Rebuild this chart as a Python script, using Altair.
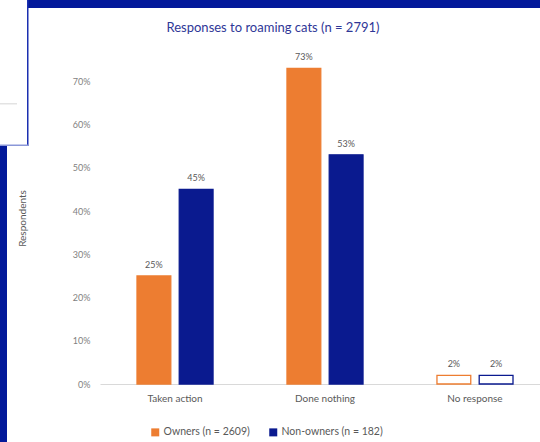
import altair as alt
import pandas as pd

categories = ["Taken action", "Done nothing", "No response"]
groups = ["Owners (n = 2609)", "Non-owners (n = 182)"]
owners = [0.25, 0.73, 0.02]
non_owners = [0.45, 0.53, 0.02]
y_ticks = [0, 0.1, 0.2, 0.3, 0.4, 0.5, 0.6, 0.7]

rows = []
for c, o, n in zip(categories, owners, non_owners):
    rows.append({"category": c, "group": groups[0], "value": o})
    rows.append({"category": c, "group": groups[1], "value": n})
df = pd.DataFrame(rows)

ORANGE = "#ED7D31"
NAVY = "#0A1A8F"
FRAME = "#03199A"
FONT = "Lato"

xscale = alt.Scale(domain=categories, range=[0, 450], paddingInner=0.493, paddingOuter=0.2467)
xoff = alt.XOffset("group:N", sort=groups,
                   scale=alt.Scale(domain=groups, paddingInner=0.2, paddingOuter=0))
yscale = alt.Scale(domain=[0, 0.8], nice=False)
cscale = alt.Scale(domain=groups, range=[ORANGE, NAVY])

base = alt.Chart(df)

bars = base.mark_bar(strokeWidth=1.3).encode(
    x=alt.X("category:N", sort=categories, scale=xscale,
            axis=alt.Axis(title=None, labelAngle=0, ticks=False, domain=True,
                          domainColor="#d9d9d9", domainWidth=1, labelPadding=9,
                          labelColor="#595959", labelFontSize=10, labelFont=FONT)),
    xOffset=xoff,
    y=alt.Y("value:Q", scale=yscale,
            axis=alt.Axis(title="Respondents", values=y_ticks, format=".0%",
                          grid=False, domain=False, ticks=False, labelPadding=10,
                          labelColor="#7f7f7f", labelFontSize=9, labelFont=FONT,
                          titleFont=FONT, titleFontSize=10, titleColor="#595959",
                          titleFontWeight="normal", titleX=-73, titleY=180)),
    fill=alt.condition(
        alt.datum.category == "No response",
        alt.value("white"),
        alt.Fill("group:N", sort=groups, scale=cscale,
                 legend=alt.Legend(title=None, orient="none", direction="horizontal",
                                   legendX=50, legendY=389, symbolType="square",
                                   symbolSize=64, symbolStrokeWidth=0,
                                   labelFont=FONT, labelFontSize=10.5,
                                   labelColor="#595959", columnPadding=18,
                                   symbolOffset=0, labelOffset=3)),
    ),
    stroke=alt.Stroke("group:N", sort=groups, scale=cscale, legend=None),
)

labels = base.mark_text(baseline="bottom", dy=-6, font=FONT, fontSize=9,
                        color="#595959").encode(
    x=alt.X("category:N", sort=categories, scale=xscale),
    xOffset=xoff,
    y=alt.Y("value:Q", scale=yscale),
    text=alt.Text("value:Q", format=".0%"),
)

one = alt.Data(values=[{"k": 1}])
top_band = alt.Chart(one).mark_rect(color=FRAME).encode(
    x=alt.value(-72), x2=alt.value(440), y=alt.value(-38), y2=alt.value(-30))
left_band = alt.Chart(one).mark_rect(color=FRAME).encode(
    x=alt.value(-100), x2=alt.value(-93), y=alt.value(107), y2=alt.value(404))
box_right = alt.Chart(one).mark_rect(color="#1b2fb0").encode(
    x=alt.value(-73), x2=alt.value(-71.5), y=alt.value(-38), y2=alt.value(108))
box_bottom = alt.Chart(one).mark_rect(color="#8a97d8").encode(
    x=alt.value(-100), x2=alt.value(-71.5), y=alt.value(106.5), y2=alt.value(108))
box_line = alt.Chart(one).mark_rect(color="#e3e3e3").encode(
    x=alt.value(-100), x2=alt.value(-83), y=alt.value(65), y2=alt.value(66.5))

chart = alt.layer(bars, labels, top_band, left_band, box_right, box_bottom, box_line).properties(
    width=440,
    height=346,
    title=alt.TitleParams("Responses to roaming cats (n = 2791)", font=FONT,
                          fontSize=13, fontWeight="normal", color="#2F3797",
                          anchor="middle", dx=-47, dy=41, offset=6),
    autosize=alt.AutoSizeParams(type="none"),
    padding={"left": 100, "top": 38, "right": 0, "bottom": 58},
).configure(background="white").configure_view(stroke=None)

chart.save("out.html", embed_options={"renderer": "svg", "actions": False})
